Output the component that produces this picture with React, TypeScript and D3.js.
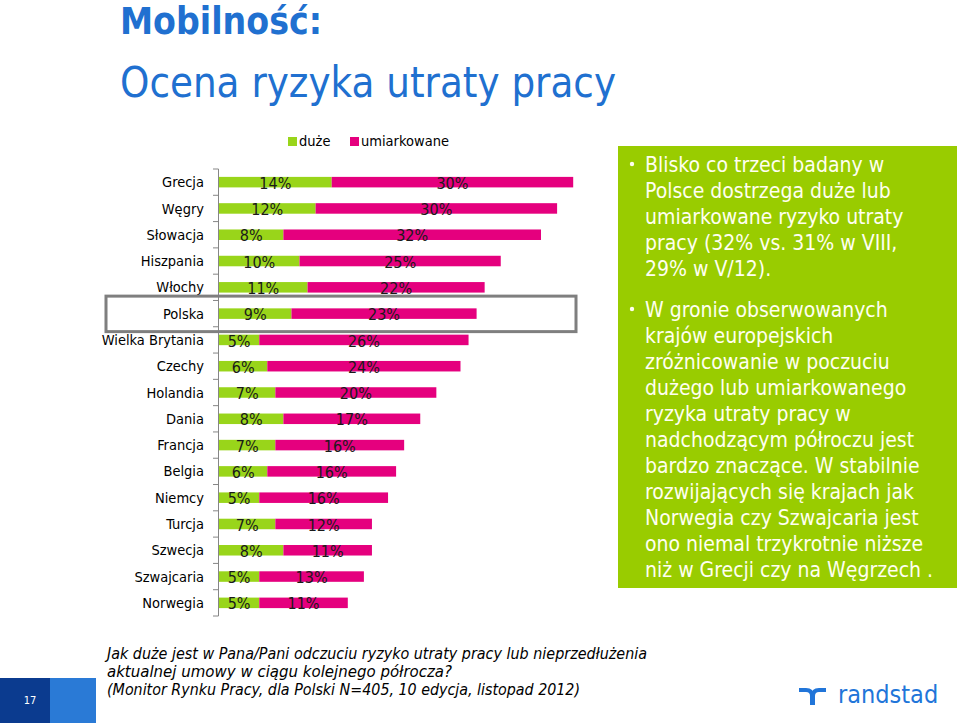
import React from "react";
import * as d3 from "d3";

const countries = ["Grecja","Węgry","Słowacja","Hiszpania","Włochy","Polska","Wielka Brytania","Czechy","Holandia","Dania","Francja","Belgia","Niemcy","Turcja","Szwecja","Szwajcaria","Norwegia"];
const duze = [14,12,8,10,11,9,5,6,7,8,7,6,5,7,8,5,5];
const umiarkowane = [30,30,32,25,22,23,26,24,20,17,16,16,16,12,11,13,11];
const seriesNames = ["duże", "umiarkowane"];
const highlight = "Polska";

const para1 = ["Blisko co trzeci badany w","Polsce dostrzega duże lub","umiarkowane ryzyko utraty","pracy (32% vs. 31% w VIII,","29% w V/12)."];
const para2 = ["W gronie obserwowanych","krajów europejskich","zróżnicowanie w poczuciu","dużego lub umiarkowanego","ryzyka utraty pracy w","nadchodzącym półroczu jest","bardzo znaczące. W stabilnie","rozwijających się krajach jak","Norwegia czy Szwajcaria jest","ono niemal trzykrotnie niższe","niż w Grecji czy na Węgrzech ."];
const footer = ["Jak duże jest w Pana/Pani odczuciu ryzyko utraty pracy lub nieprzedłużenia","aktualnej umowy w ciągu kolejnego półrocza?","(Monitor Rynku Pracy, dla Polski N=405, 10 edycja, listopad 2012)"];
const footerWidths = [540, 345, 473];

const FONT = "Tahoma, 'DejaVu Sans Condensed', 'DejaVu Sans', sans-serif";
const GREEN = "#99D51A";
const PINK = "#E5007E";
const BLUE = "#2070D0";

export default function App() {
  const y = d3.scaleBand<string>().domain(countries).range([169, 616]).paddingInner(0.6).paddingOuter(0.3);
  const x = d3.scaleLinear().domain([0, 44]).range([219, 573.2]);
  const step = y.step();
  const bw = y.bandwidth();
  const boundaries = d3.range(countries.length + 1).map(i => 169 + i * step);
  const hy = y(highlight)! + bw / 2;

  return (
    <svg width={960} height={725} style={{ position: "absolute", left: 0, top: 0, background: "#fff" }} fontFamily={FONT}>
      <rect x={0} y={0} width={960} height={725} fill="#fff" />
      <text x={120} y={34} fontSize={37} fontWeight="bold" fill={BLUE} textLength={202} lengthAdjust="spacingAndGlyphs">Mobilność:</text>
      <text x={120} y={97} fontSize={43} fill={BLUE} textLength={496} lengthAdjust="spacingAndGlyphs">Ocena ryzyka utraty pracy</text>

      {/* legend */}
      <rect x={288} y={137} width={9} height={9} fill={GREEN} />
      <text x={299} y={146} fontSize={14.5} fill="#000">{seriesNames[0]}</text>
      <rect x={350} y={137} width={9} height={9} fill={PINK} />
      <text x={361} y={146} fontSize={14.5} fill="#000">{seriesNames[1]}</text>

      {/* axis */}
      <line x1={218.5} x2={218.5} y1={169} y2={616} stroke="#868686" />
      {boundaries.map((b, i) => (
        <line key={i} x1={213} x2={218.5} y1={b} y2={b} stroke="#868686" />
      ))}

      {countries.map((c, i) => {
        const yy = y(c)!;
        const cy = yy + bw / 2;
        const g = duze[i];
        const u = umiarkowane[i];
        return (
          <g key={c}>
            <text x={204} y={cy} dy="0.35em" textAnchor="end" fontSize={14.5} fill="#000">{c}</text>
            <rect x={x(0)} y={yy} width={x(g) - x(0)} height={bw} fill={GREEN} />
            <rect x={x(g)} y={yy} width={x(g + u) - x(g)} height={bw} fill={PINK} />
            <text x={(x(0) + x(g)) / 2} y={cy + 1} dy="0.35em" textAnchor="middle" fontSize={16} fill="#1a1a1a">{g}%</text>
            <text x={(x(g) + x(g + u)) / 2} y={cy + 1} dy="0.35em" textAnchor="middle" fontSize={16} fill="#1a1a1a">{u}%</text>
          </g>
        );
      })}

      {/* highlight box */}
      <rect x={106} y={hy - 17.5} width={470} height={35.5} fill="none" stroke="#7F7F7F" strokeWidth={3} />

      {/* green comment box */}
      <rect x={618} y={146} width={339} height={442} fill="#99CC00" />
      <circle cx={632} cy={164} r={2.2} fill="#FFFFF0" />
      {para1.map((l, i) => (
        <text key={"a" + i} x={645} y={165 + i * 26} dy="0.35em" fontSize={21} fill="#FFFFF0">{l}</text>
      ))}
      <circle cx={632} cy={309} r={2.2} fill="#FFFFF0" />
      {para2.map((l, i) => (
        <text key={"b" + i} x={645} y={310 + i * 26} dy="0.35em" fontSize={21} fill="#FFFFF0">{l}</text>
      ))}

      {/* footer */}
      {footer.map((l, i) => (
        <text key={"f" + i} x={107} y={659 + i * 18} fontSize={15} fontStyle="italic" fill="#000" textLength={footerWidths[i]} lengthAdjust="spacingAndGlyphs">{l}</text>
      ))}
      <rect x={0} y={678} width={50} height={45} fill="#0B3B8F" />
      <rect x={50} y={678} width={46} height={45} fill="#2A7AD6" />
      <text x={30} y={704} fontSize={11} textAnchor="middle" fill="#fff">17</text>

      {/* logo */}
      <g fill="none" stroke="#2175D9" strokeWidth={4}>
        <path d="M799 690 H806 Q812 690 812 696 V705" />
        <path d="M826 690 H819 Q813 690 813 696 V705" />
      </g>
      <text x={838} y={703} fontSize={25} fill="#2175D9" fontFamily="'DejaVu Sans Condensed', 'DejaVu Sans', sans-serif">randstad</text>
    </svg>
  );
}
